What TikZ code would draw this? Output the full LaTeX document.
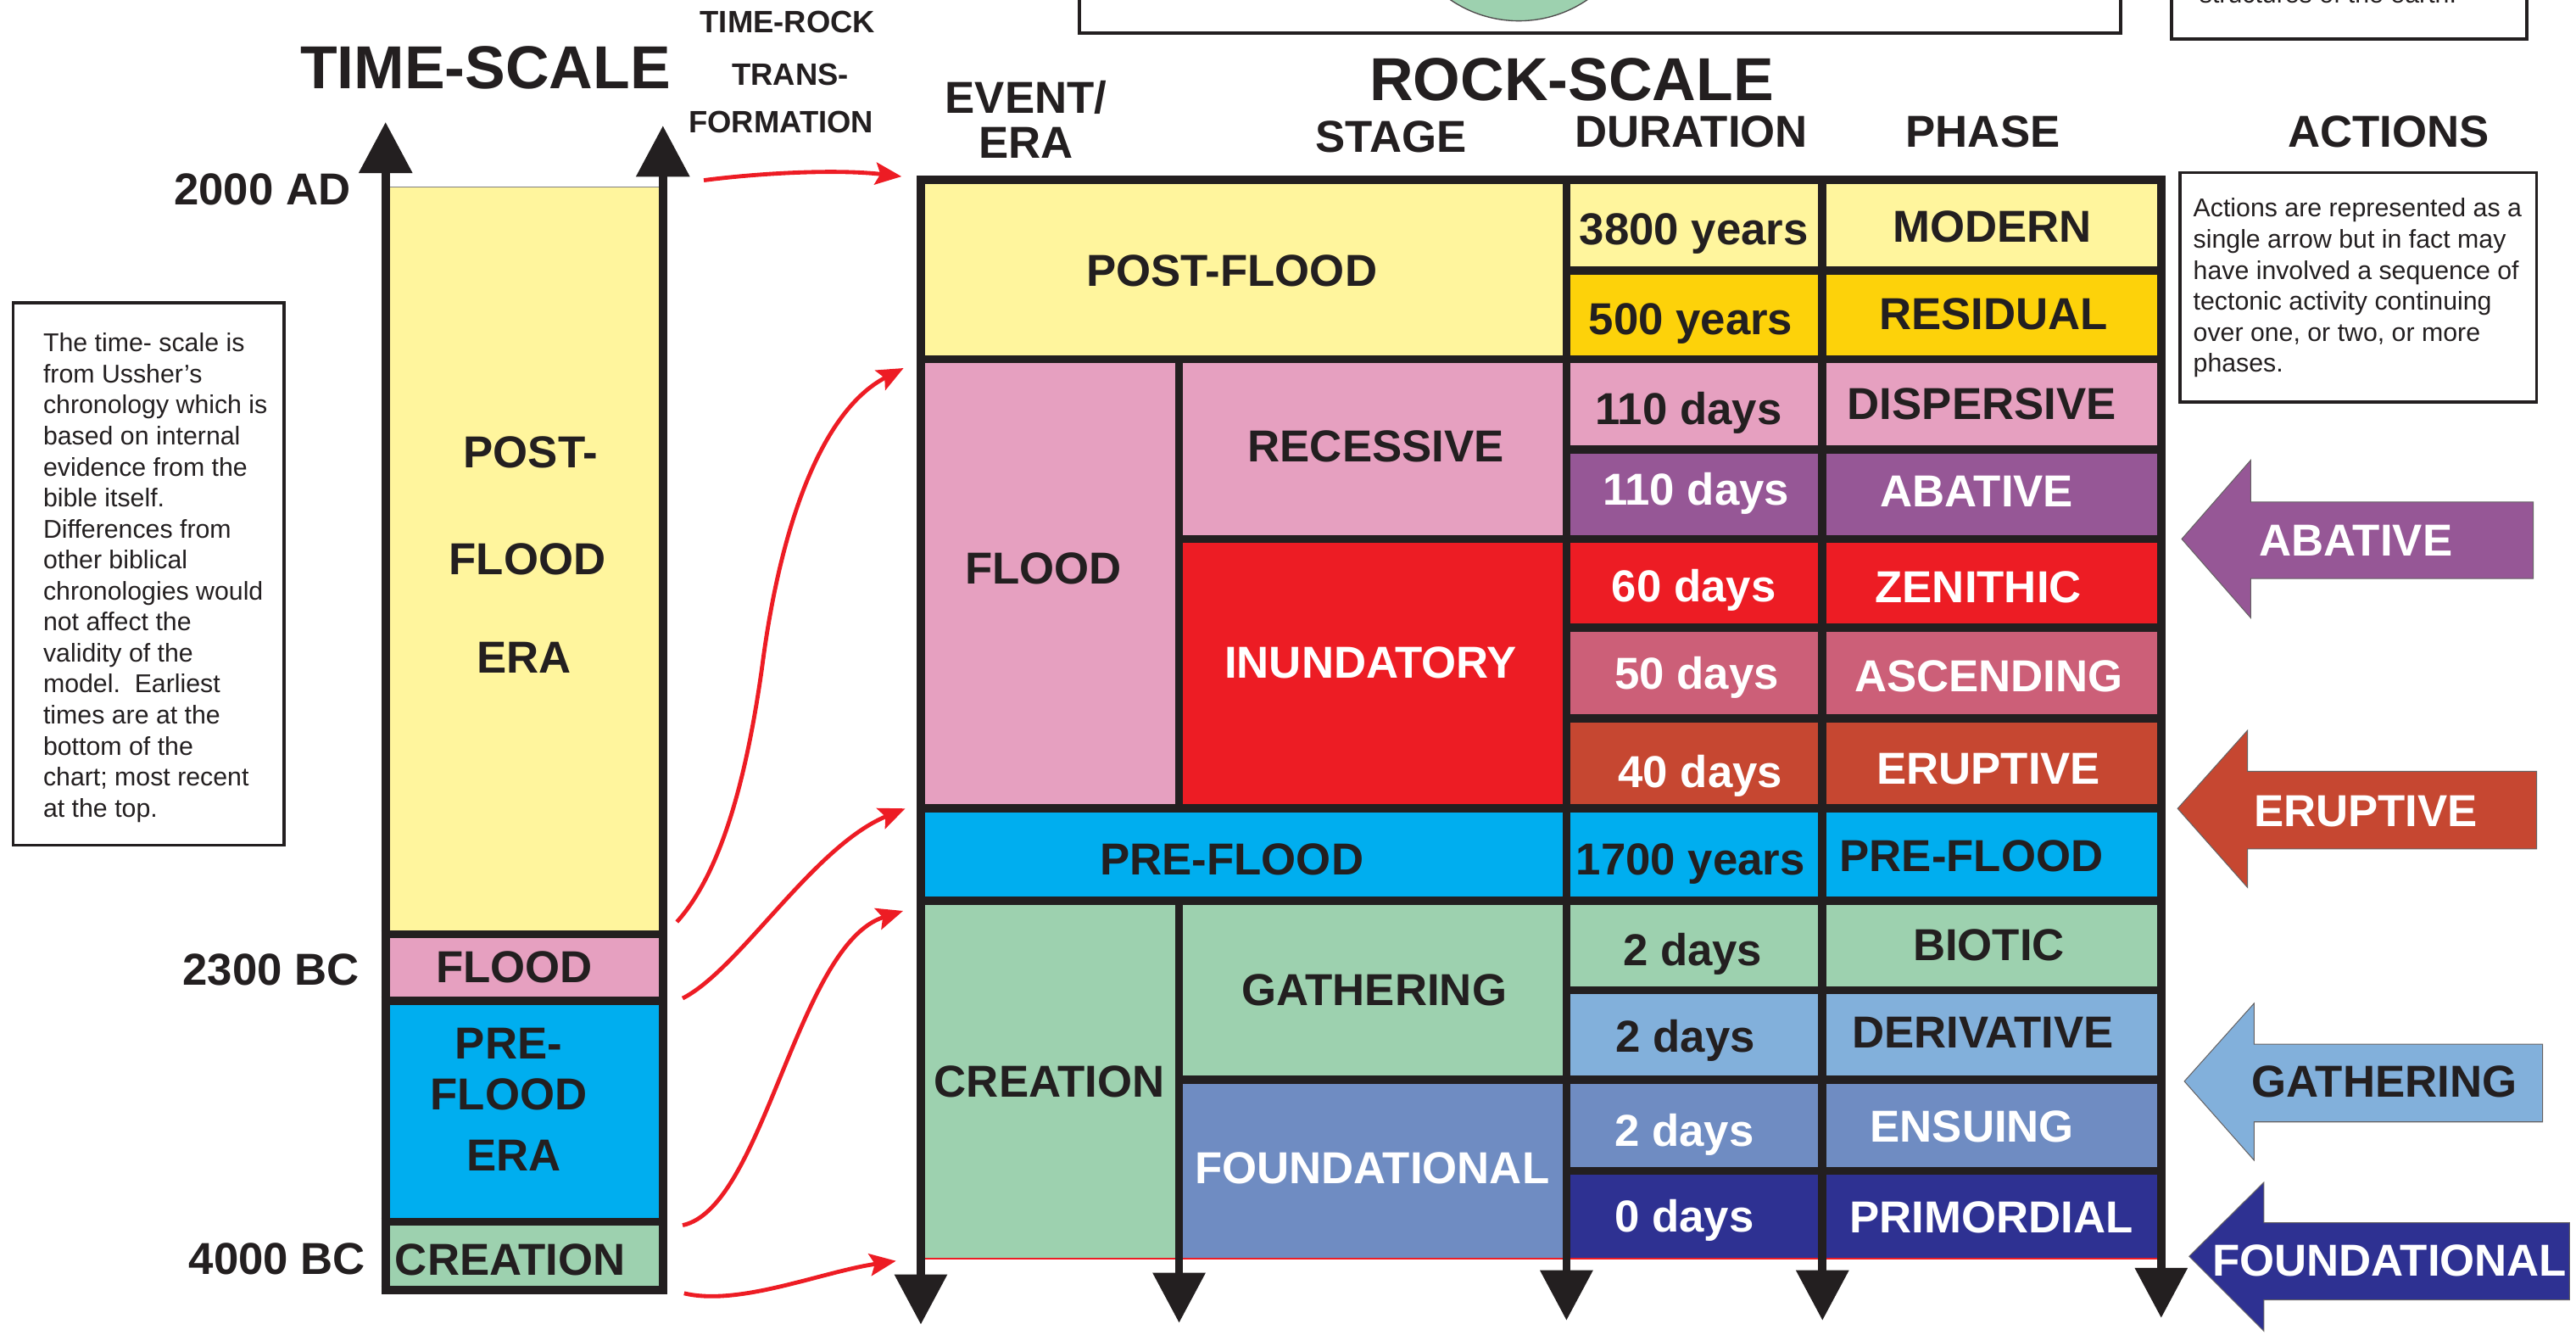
\documentclass[tikz,border=0pt]{standalone}
\usepackage{fontspec}
\setmainfont{Liberation Sans}
\usetikzlibrary{arrows.meta}
\definecolor{ink}{HTML}{231F20}
\definecolor{cyel}{HTML}{FFF59D}
\definecolor{cgold}{HTML}{FDD20A}
\definecolor{cpink}{HTML}{E6A0C0}
\definecolor{cpurp}{HTML}{965796}
\definecolor{cred}{HTML}{ED1C24}
\definecolor{crose}{HTML}{CC5F78}
\definecolor{cbrick}{HTML}{C64731}
\definecolor{cblue}{HTML}{00AEEF}
\definecolor{cgreen}{HTML}{9DD1AF}
\definecolor{clblue}{HTML}{82B0DB}
\definecolor{csteel}{HTML}{6F8CC2}
\definecolor{cnavy}{HTML}{2E3192}
\definecolor{arrred}{HTML}{ED1C24}
\begin{document}
\begin{tikzpicture}[x=0.02cm,y=-0.02cm,
  lbl/.style={font=\fontsize{15.5}{18}\selectfont\bfseries,text=ink,inner sep=0pt,text height=11.1pt,text depth=0pt},
  wlbl/.style={lbl,text=white},
  ttl/.style={font=\fontsize{21}{24}\selectfont\bfseries,text=ink,inner sep=0pt,text height=15pt,text depth=0pt},
  sml/.style={font=\fontsize{10.7}{12}\selectfont\bfseries,text=ink,inner sep=0pt,text height=7.7pt,text depth=0pt},
  notetext/.style={font=\fontsize{8.9}{10.74}\selectfont,text=ink,inner sep=0pt,align=left,anchor=north west},
  blackbar/.style={draw=ink,line width=0.1cm},
  downax/.style={blackbar,-{Triangle[length=0.61cm,width=0.62cm]}},
  rarr/.style={draw=arrred,line width=0.05cm,-{Stealth[length=0.32cm,width=0.27cm,inset=0.06cm]}},
  boxframe/.style={draw=ink,line width=0.04cm},
  actarrow/.style={draw=ink!70,line width=0.3pt}
]
\useasboundingbox (0,0) rectangle (1568,812);
\clip (0,0) rectangle (1568,812);

% ---------- partial boxes at the top ----------
\draw[boxframe,fill=white] (657,-40) rectangle (1291,20);
\draw[fill=cgreen,draw=ink!80,line width=0.4pt] (924.5,-61.3) circle[radius=74];
\draw[boxframe,fill=white] (1322,-40) rectangle (1538,23.7);
\node[notetext,anchor=base west] (topnote) at (1338.4,1.7) {structures of the earth.};

% ---------- titles ----------
\node[ttl] (tsTitle) at (295.5,40.7) {TIME-SCALE};
\node[ttl] (rsTitle) at (956.7,47.8) {ROCK-SCALE};
\node[sml] (trA) at (479.4,13.3) {TIME-ROCK};
\node[sml] (trB) at (481,45) {TRANS-};
\node[sml] (trC) at (475.4,74) {FORMATION};
\node[lbl] (hEvent) at (624.5,59) {EVENT/};
\node[lbl] (hEra) at (624.5,86.7) {ERA};
\node[lbl] (hStage) at (846.7,83) {STAGE};
\node[lbl] (hDur) at (1029.5,80) {DURATION};
\node[lbl] (hPhase) at (1207,80) {PHASE};
\node[lbl] (hAct) at (1454,80) {ACTIONS};

% ---------- left note ----------
\draw[boxframe] (8,184.4) rectangle (173,514.3);
\node[notetext] (leftnote) at (26,202.4) {The time- scale is\\from Ussher's\\chronology which is\\based on internal\\evidence from the\\bible itself.\\Differences from\\other biblical\\chronologies would\\not affect the\\validity of the\\model.\ \ Earliest\\times are at the\\bottom of the\\chart; most recent\\at the top.};

% ---------- time scale ----------
\fill[cyel] (234.7,113.7) rectangle (403.5,568.5);
\fill[cpink] (234.7,568.5) rectangle (403.5,609);
\fill[cblue] (234.7,609) rectangle (403.5,743.5);
\fill[cgreen] (234.7,743.5) rectangle (403.5,785);
\draw[gray,line width=0.4pt] (234.7,113.7) -- (403.5,113.7);
\foreach \yy in {568.5,609,743.5,785} \draw[blackbar] (232,\yy) -- (406,\yy);
\draw[blackbar,-{Triangle[length=0.62cm,width=0.63cm]}] (234.7,787) -- (234.7,74.3);
\draw[blackbar,-{Triangle[length=0.62cm,width=0.63cm]}] (403.5,787) -- (403.5,76.5);

\node[lbl,anchor=east] (d2000) at (213.7,115) {2000 AD};
\node[lbl,anchor=east] (d2300) at (219,589.5) {2300 BC};
\node[lbl,anchor=east] (d4000) at (222.8,765.5) {4000 BC};
\node[lbl] (tpA) at (323,274.7) {POST-};
\node[lbl] (tpB) at (321,339.8) {FLOOD};
\node[lbl] (tpC) at (319,399.7) {ERA};
\node[lbl] (tfl) at (313,588) {FLOOD};
\node[lbl] (tprA) at (309.6,634.8) {PRE-};
\node[lbl] (tprB) at (309.6,665.6) {FLOOD};
\node[lbl] (tprC) at (312.8,703) {ERA};
\node[lbl] (tcr) at (310.6,766) {CREATION};

% ---------- rock scale cells ----------
\fill[cyel] (560.5,109.3) rectangle (953.5,218.5);
\fill[cpink] (560.5,218.5) rectangle (717.7,492);
\fill[cpink] (717.7,218.5) rectangle (953.5,328);
\fill[cred] (717.7,328) rectangle (953.5,492);
\fill[cblue] (560.5,492) rectangle (953.5,548);
\fill[cgreen] (560.5,548) rectangle (717.7,766);
\fill[cgreen] (717.7,548) rectangle (953.5,657);
\fill[csteel] (717.7,657) rectangle (953.5,766);
\foreach \ya/\yb/\cc in {109.3/164.5/cyel,164.5/218.5/cgold,218.5/273.7/cpink,273.7/328/cpurp,328/382/cred,382/437/crose,437/492/cbrick,492/548/cblue,548/602.5/cgreen,602.5/657/clblue,657/712.5/csteel,712.5/766/cnavy}
  \fill[\cc] (953.5,\ya) rectangle (1315.5,\yb);
\draw[arrred,line width=0.5pt] (563,766) -- (1313,766);

% ---------- rock scale lines ----------
\foreach \yy in {109.3,218.5,492,548} \draw[blackbar] (558,\yy) -- (1318,\yy);
\foreach \yy in {328,657} \draw[blackbar] (717.7,\yy) -- (1318,\yy);
\foreach \yy in {164.5,273.7,382,437,602.5,712.5} \draw[blackbar] (953.5,\yy) -- (1318,\yy);
\draw[blackbar] (717.7,218.5) -- (717.7,492);
\draw[downax] (560.5,107) -- (560.5,806);
\draw[downax] (717.7,548) -- (717.7,805);
\draw[downax] (953.5,107) -- (953.5,803.5);
\draw[downax] (1109.3,107) -- (1109.3,803.5);
\draw[downax] (1315.5,107) -- (1315.5,802);

% ---------- rock scale labels ----------
\node[lbl] (ePost) at (749.7,164.4) {POST-FLOOD};
\node[lbl] (eFlood) at (635,345.7) {FLOOD};
\node[lbl] (sRec) at (837.5,271.3) {RECESSIVE};
\node[wlbl] (sInu) at (834.4,403) {INUNDATORY};
\node[lbl] (ePre) at (749.8,522.4) {PRE-FLOOD};
\node[lbl] (eCre) at (638.8,658) {CREATION};
\node[lbl] (sGat) at (836.5,602.2) {GATHERING};
\node[wlbl] (sFou) at (835.2,710.4) {FOUNDATIONAL};

\node[lbl] (du1) at (1031.1,139.2) {3800 years};
\node[lbl] (du2) at (1029.2,193.6) {500 years};
\node[lbl] (du3) at (1027.9,248.4) {110 days};
\node[wlbl] (du4) at (1032.3,297.7) {110 days};
\node[wlbl] (du5) at (1031.1,356.2) {60 days};
\node[wlbl] (du6) at (1032.9,409.6) {50 days};
\node[wlbl] (du7) at (1035,469.6) {40 days};
\node[lbl] (du8) at (1029.1,522.8) {1700 years};
\node[lbl] (du9) at (1030.3,578) {2 days};
\node[lbl] (du10) at (1026,630.7) {2 days};
\node[wlbl] (du11) at (1025.3,687.7) {2 days};
\node[wlbl] (du12) at (1025.3,739.8) {0 days};

\node[lbl] (ph1) at (1212.6,137.8) {MODERN};
\node[lbl] (ph2) at (1213.4,191) {RESIDUAL};
\node[lbl] (ph3) at (1206.3,245.5) {DISPERSIVE};
\node[wlbl] (ph4) at (1203.2,298.7) {ABATIVE};
\node[wlbl] (ph5) at (1204.2,356.9) {ZENITHIC};
\node[wlbl] (ph6) at (1210.5,411) {ASCENDING};
\node[wlbl] (ph7) at (1210.4,467.2) {ERUPTIVE};
\node[lbl] (ph8) at (1200,520.8) {PRE-FLOOD};
\node[lbl] (ph9) at (1210.6,574.6) {BIOTIC};
\node[lbl] (ph10) at (1207,627.8) {DERIVATIVE};
\node[wlbl] (ph11) at (1200.4,685.4) {ENSUING};
\node[wlbl] (ph12) at (1212,740.5) {PRIMORDIAL};

% ---------- actions ----------
\draw[boxframe] (1327,105) rectangle (1544,244.5);
\node[notetext] (actnote) at (1334.7,120.4) {Actions are represented as a\\single arrow but in fact may\\have involved a sequence of\\tectonic activity continuing\\over one, or two, or more\\phases.};

\filldraw[actarrow,fill=cpurp] (1328,328) -- (1370,280) -- (1370,305.5) -- (1542,305.5) -- (1542,352) -- (1370,352) -- (1370,376) -- cycle;
\node[wlbl] (aAba) at (1434,328.6) {ABATIVE};
\filldraw[actarrow,fill=cbrick] (1325.5,492) -- (1368,444.5) -- (1368,469.4) -- (1544,469.4) -- (1544,516.6) -- (1368,516.6) -- (1368,540) -- cycle;
\node[wlbl] (aEru) at (1440,493.3) {ERUPTIVE};
\filldraw[actarrow,fill=clblue] (1329.6,658) -- (1372,610.6) -- (1372,635.4) -- (1547.7,635.4) -- (1547.7,682.7) -- (1372,682.7) -- (1372,706) -- cycle;
\node[lbl] (aGat) at (1451.3,657.6) {GATHERING};
\filldraw[actarrow,fill=cnavy] (1332.5,764.5) -- (1378,719.5) -- (1378,744) -- (1564,744) -- (1564,791) -- (1378,791) -- (1378,810) -- cycle;
\node[wlbl] (aFou) at (1454.5,767) {FOUNDATIONAL};

% ---------- time-rock transformation arrows ----------
\coordinate (t1) at (428.4,109.7); \coordinate (h1) at (548.8,107.4);
\coordinate (t2) at (412,561);     \coordinate (m2) at (464,405); \coordinate (h2) at (550,224);
\coordinate (t3) at (415.5,607.5); \coordinate (h3) at (551,492);
\coordinate (t4) at (415.5,745.6); \coordinate (h4) at (549.7,554.3);
\coordinate (t5) at (416.4,787);   \coordinate (h5) at (545.4,767.3);
\draw[rarr] (t1) .. controls (465,105) and (510,103) .. (h1);
\draw[rarr] (t2) .. controls (440,530) and (455,470) .. (m2) .. controls (475,320) and (500,250) .. (h2);
\draw[rarr] (t3) .. controls (450,590) and (495,515) .. (h3);
\draw[rarr] (t4) .. controls (465,735) and (485,575) .. (h4);
\draw[rarr] (t5) .. controls (450,795) and (500,774) .. (h5);
\end{tikzpicture}
\end{document}
